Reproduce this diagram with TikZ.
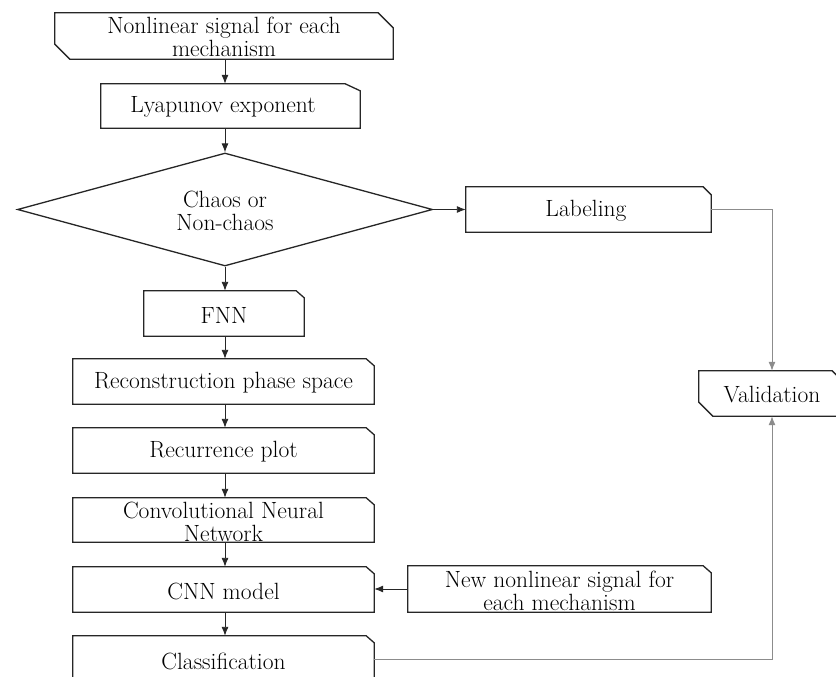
\documentclass[tikz,border=0pt]{standalone}
\usetikzlibrary{shapes.geometric,arrows.meta}
\newcommand\trbox[3]{\draw[outline] (#1.north west) -- ([xshift=-#2]#1.north east) -- ([yshift=-#3]#1.north east) -- (#1.south east) -- (#1.south west) -- cycle;}
\newcommand\trblbox[3]{\draw[outline] (#1.north west) -- ([xshift=-#2]#1.north east) -- ([yshift=-#3]#1.north east) -- (#1.south east) -- ([xshift=#2]#1.south west) -- ([yshift=#3]#1.south west) -- cycle;}
\begin{document}
\begin{tikzpicture}[x=1pt,y=-1pt,
  box/.style={rectangle, draw=none, inner sep=0pt},
  outline/.style={draw=black!85, line width=1.3pt, line join=miter},
  txt/.style={font=\fontsize{23.5}{23}\selectfont, align=center, text=black, inner sep=0pt},
  arr/.style={-{Latex[length=9pt,width=7pt]}, line width=0.9pt, draw=black!85},
  garr/.style={-{Latex[length=9pt,width=7pt]}, line width=1pt, draw=black!45}]
\useasboundingbox (0,0) rectangle (836,677);
\fill[white] (0,0) rectangle (836,677);

% nodes
\node[box, minimum width=338pt, minimum height=46pt] (top) at (224,36) {};
\trblbox{top}{15pt}{15pt}
\node[txt] at (224,37) {Nonlinear signal for each\\mechanism};

\node[box, minimum width=259pt, minimum height=44pt] (lya) at (230.5,106) {};
\trbox{lya}{15pt}{7pt}
\node[txt] at (223,107) {Lyapunov exponent};

\node[diamond, draw=black!85, line width=1.3pt, inner sep=0pt,
  minimum width=415pt, minimum height=113pt] (dia) at (225,209.5) {};
\node[txt] at (225,211) {Chaos or\\Non-chaos};

\node[box, minimum width=245pt, minimum height=45pt] (lab) at (588.5,209.5) {};
\trbox{lab}{8pt}{8pt}
\node[txt] at (586,211) {Labeling};

\node[box, minimum width=147pt, minimum height=45pt] (val) at (772.5,393.5) {};
\trblbox{val}{14pt}{14pt}
\node[txt] at (772,395) {Validation};

\node[box, minimum width=160pt, minimum height=45pt] (fnn) at (224,313.5) {};
\trbox{fnn}{8pt}{7pt}
\node[txt] at (224,315) {FNN};

\node[box, minimum width=301pt, minimum height=45pt] (rec) at (223.5,381.5) {};
\trbox{rec}{8pt}{7pt}
\node[txt] at (223.5,383) {Reconstruction phase space};

\node[box, minimum width=301pt, minimum height=45pt] (rp) at (223.5,450.5) {};
\trbox{rp}{8pt}{7pt}
\node[txt] at (223.5,452) {Recurrence plot};

\node[box, minimum width=301pt, minimum height=44pt] (conv) at (223.5,520) {};
\trbox{conv}{8pt}{7pt}
\node[txt] at (223.5,522) {Convolutional Neural\\Network};

\node[box, minimum width=301pt, minimum height=45pt] (cnn) at (223.5,589.5) {};
\trbox{cnn}{8pt}{7pt}
\node[txt] at (223.5,591) {CNN model};

\node[box, minimum width=301pt, minimum height=46pt] (cls) at (223.5,659) {};
\trbox{cls}{8pt}{7pt}
\node[txt] at (223.5,661) {Classification};

\node[box, minimum width=303pt, minimum height=46pt] (new) at (559.5,589) {};
\trbox{new}{8pt}{7pt}
\node[txt] at (559.5,591) {New nonlinear signal for\\each mechanism};

% connectors
\coordinate (cx) at (225,0);
\draw[arr] (cx |- top.south) -- (cx |- lya.north);
\draw[arr] (cx |- lya.south) -- (dia.north);
\draw[arr] (dia.south) -- (cx |- fnn.north);
\draw[arr] (cx |- fnn.south) -- (cx |- rec.north);
\draw[arr] (cx |- rec.south) -- (cx |- rp.north);
\draw[arr] (cx |- rp.south) -- (cx |- conv.north);
\draw[arr] (cx |- conv.south) -- (cx |- cnn.north);
\draw[arr] (cx |- cnn.south) -- (cx |- cls.north);
\draw[arr] (dia.east) -- (lab.west |- dia.east);
\draw[arr] (new.west) -- (cnn.east |- new.west);
\coordinate (vx) at (772,0);
\draw[garr] (lab.east) -| (vx |- val.north);
\draw[garr] (cls.east) -| (vx |- val.south);
\end{tikzpicture}
\end{document}
